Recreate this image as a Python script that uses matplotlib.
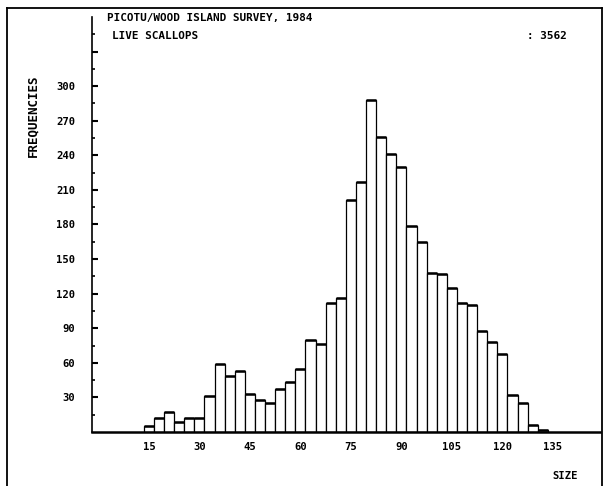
import numpy as np
import matplotlib
matplotlib.use("Agg")
import matplotlib.pyplot as plt
from matplotlib.lines import Line2D

# Scallop shell size classes (3 mm bins, centred) and counts
size_class = np.arange(15, 133, 3)
freq = np.array([5, 12, 17, 9, 12, 12, 31, 59, 49, 53,
                 33, 28, 25, 37, 43, 55, 80, 76, 112, 116,
                 201, 217, 288, 256, 241, 230, 179, 165, 138, 137,
                 125, 112, 110, 88, 78, 68, 32, 25, 6, 2])

x_ticks = [15, 30, 45, 60, 75, 90, 105, 120, 135]
y_ticks = [30, 60, 90, 120, 150, 180, 210, 240, 270, 300]

title1 = "PICOTU/WOOD ISLAND SURVEY, 1984"
title2 = "LIVE SCALLOPS"

plt.rcParams['font.family'] = ['DejaVu Sans Mono']
fs = 7.6

fig = plt.figure(figsize=(6.04, 4.86), dpi=100)
ax = fig.add_axes([92 / 604, 1 - 432 / 486, 508 / 604, 415 / 486])

ax.bar(size_class, freq, width=3, color='white', edgecolor='black', linewidth=0.9)
# heavier pen on the bar tops
ax.hlines(freq, size_class - 1.5, size_class + 1.5, colors='black', linewidth=1.8)

ax.set_xlim(-1.9, 149)
ax.set_ylim(0, 360)

for s in ['top', 'right']:
    ax.spines[s].set_visible(False)
ax.spines['left'].set_linewidth(1.2)
ax.spines['bottom'].set_linewidth(1.8)

ax.set_xticks(x_ticks)
ax.set_xticklabels([str(v) for v in x_ticks], fontsize=fs, fontweight='bold')
ax.tick_params(axis='x', length=0, pad=7)

ax.set_yticks(y_ticks + [330])
ax.set_yticklabels([str(v) for v in y_ticks] + [''], fontsize=fs, fontweight='bold')
ax.set_yticks(np.arange(15, 360, 30), minor=True)
ax.tick_params(axis='y', which='major', direction='in', length=4, width=1.5, pad=12)
ax.tick_params(axis='y', which='minor', direction='in', length=2, width=1.2)

fig.text(33 / 604, 1 - 116 / 486, "FREQUENCIES", rotation=90, ha='center', va='center',
         fontsize=9, fontweight='bold')
fig.text(565 / 604, 1 - 476 / 486, "SIZE", ha='center', va='center',
         fontsize=fs, fontweight='bold')

fig.text(107 / 604, 1 - 18 / 486, title1, ha='left', va='center', fontsize=7.9, fontweight='bold')
fig.text(112 / 604, 1 - 36 / 486, title2, ha='left', va='center', fontsize=7.9, fontweight='bold')
fig.text(527 / 604, 1 - 36 / 486, ": %d" % freq.sum(), ha='left', va='center',
         fontsize=7.9, fontweight='bold')

# outer frame of the plot sheet
W, H = 604, 486
frame = [((7, 7), (486, 8)), ((7, 602), (8, 8)), ((602, 602), (8, 486))]
for xs, ys in frame:
    fig.add_artist(Line2D([x / W for x in xs], [1 - y / H for y in ys],
                          color='black', linewidth=1.3))

fig.savefig("out.png", dpi=100)
